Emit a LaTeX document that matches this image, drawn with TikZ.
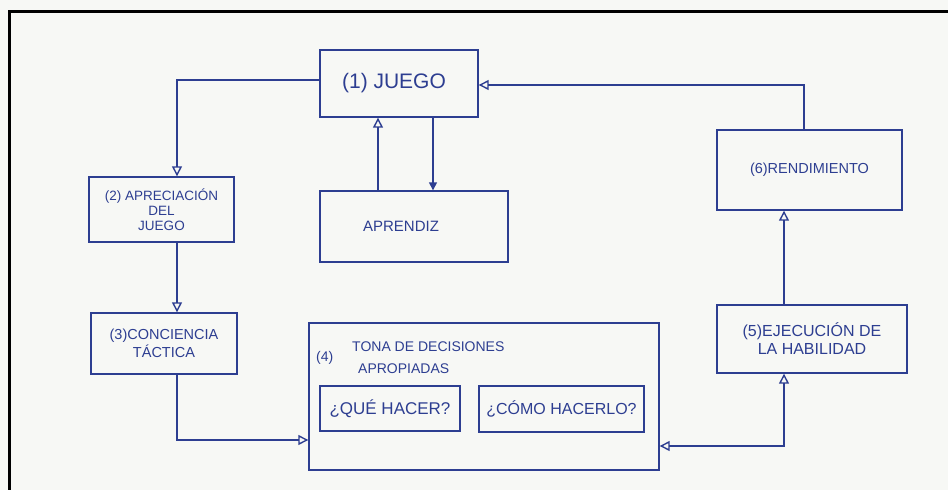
\documentclass[tikz,border=0pt]{standalone}
\usepackage{fontspec}
\setmainfont{Liberation Sans}
\usetikzlibrary{arrows.meta,calc}
\definecolor{pen}{RGB}{45,62,145}
\definecolor{paper}{RGB}{247,248,245}
\begin{document}
\begin{tikzpicture}[x=1pt,y=-1pt,
  box/.style={draw=pen,line width=1.4pt,rectangle,inner sep=0pt,text=pen,align=center,font=\fontsize{13.5}{15}\selectfont},
  lbl/.style={text=pen,inner sep=0pt,anchor=west,font=\fontsize{14}{16}\selectfont},
  arr/.style={draw=pen,line width=1.4pt,-{Triangle[open,length=10pt,width=10pt]}},
  arrboth/.style={draw=pen,line width=1.4pt,{Triangle[open,length=10pt,width=10pt]}-{Triangle[open,length=10pt,width=10pt]}},
  arrfill/.style={draw=pen,line width=1.4pt,-{Triangle[length=8pt,width=8pt]}}]
\fill[paper] (0,0) rectangle (948,490);
\useasboundingbox (0,0) rectangle (948,490);
\draw[black,line width=3pt] (9,490) -- (9,11) -- (948,11);

\node[box,minimum width=158pt,minimum height=67pt,font=\fontsize{21}{23}\selectfont] (juego) at (399,83.5) {(1) JUEGO\hspace{10pt}};
\node[box,minimum width=145pt,minimum height=65pt] (aprec) at (161.5,209.5) {(2) APRECIACIÓN\\DEL\\JUEGO};
\node[box,minimum width=188pt,minimum height=71pt,font=\fontsize{15}{17}\selectfont] (apr) at (414,226.5) {APRENDIZ\hspace{26pt}};
\node[box,minimum width=146pt,minimum height=61pt,font=\fontsize{14.5}{18}\selectfont] (conc) at (164,343.5) {(3)CONCIENCIA\\TÁCTICA};
\node[box,minimum width=350pt,minimum height=147pt] (dec) at (484,396.5) {};
\node[box,minimum width=140pt,minimum height=45pt,font=\fontsize{17}{19}\selectfont] (qh) at (390,408.5) {¿QUÉ HACER?};
\node[box,minimum width=165pt,minimum height=46pt,font=\fontsize{16}{19}\selectfont] (ch) at (561.5,409) {¿CÓMO HACERLO?};
\node[box,minimum width=190pt,minimum height=68pt,font=\fontsize{16}{18}\selectfont] (eje) at (812,339) {(5)EJECUCIÓN DE\\LA HABILIDAD};
\node[box,minimum width=185pt,minimum height=80pt,font=\fontsize{14.5}{17}\selectfont] (rend) at (809.5,170) {(6)RENDIMIENTO};

\node[lbl] (t1) at (352,347) {TONA DE DECISIONES};
\node[lbl] (t2) at (316,358) {(4)};
\node[lbl] (t3) at (358,369) {APROPIADAS};

\draw[arr] ([yshift=3.5pt]juego.west) -| ([xshift=15.5pt]aprec.north);
\draw[arr] ([xshift=15.5pt]aprec.south) -- ([xshift=15.5pt]aprec.south |- conc.north);
\draw[arr] ([xshift=13pt]conc.south) |- ([yshift=-43.5pt]dec.west);
\draw[arrboth] ([yshift=-49.5pt]dec.east) -| ([xshift=-28pt]eje.south);
\draw[arr] ([xshift=-28pt]eje.north) -- ([xshift=-28pt]eje.north |- rend.south);
\draw[arr] ([xshift=-5.5pt]rend.north) |- ([yshift=-1.5pt]juego.east);
\draw[arr] ([xshift=-36pt]apr.north) -- ([xshift=-36pt]apr.north |- juego.south);
\draw[arrfill] ([xshift=19pt]apr.north |- juego.south) -- ([xshift=19pt]apr.north);
\end{tikzpicture}
\end{document}
